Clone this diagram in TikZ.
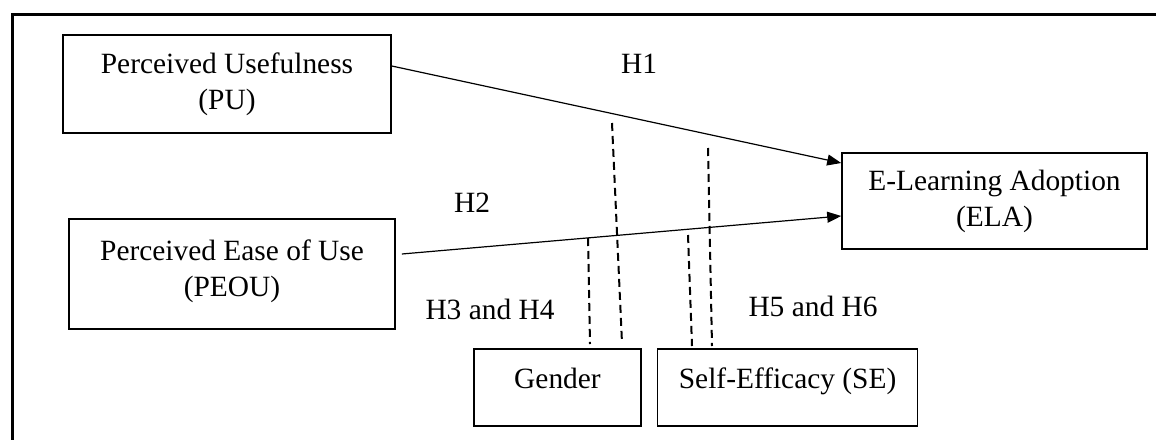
\documentclass[tikz,border=0pt]{standalone}
\usepackage{fontspec}
\setmainfont{Liberation Serif}
\usetikzlibrary{positioning,arrows.meta}

\tikzset{
  construct/.style={draw, line width=0.8pt, align=center, inner sep=0pt},
  moderator/.style={construct, text height=10pt, text depth=9pt},
  effect/.style={-{Triangle[length=7pt,width=5.5pt]}, line width=0.6pt},
  moderation/.style={line width=1pt, dash pattern=on 4pt off 2.5pt}
}

\begin{document}
\begin{tikzpicture}[x=0.5pt, y=-0.5pt, font=\fontsize{14.7}{18}\selectfont]
  \clip (0,0) rectangle (1156,439);
  % outer frame
  \draw[line width=1.5pt] (12,460) -- (12,14) -- (1180,14);

  % constructs
  \node[construct, minimum width=164pt, minimum height=49pt] (pu) at (227,84)
    {Perceived Usefulness\\(PU)};
  \node[construct, minimum width=163pt, minimum height=55pt, text depth=6pt] (peou) at (232,274)
    {Perceived Ease of Use\\(PEOU)};
  \node[construct, minimum width=152.5pt, minimum height=48pt] (ela) at (994.5,201)
    {E-Learning Adoption\\(ELA)};
  \node[moderator, minimum width=83.5pt, minimum height=38.5pt] (gender) at (557.5,387.5)
    {Gender};
  \node[moderator, minimum width=130pt, minimum height=38.5pt, right=7.5pt of gender] (se)
    {Self-Efficacy (SE)};

  % hypotheses
  \node (hOne) at (639,64) {H1};
  \node (hTwo) at (472,203) {H2};
  \node (hGender) at (490,309) {H3 and H4};
  \node (hSelf) at (813,306) {H5 and H6};

  % direct effects
  \draw[effect] ([yshift=9pt]pu.east) -- ([yshift=19pt]ela.west);
  \draw[effect] ([xshift=3pt,yshift=10pt]peou.east) -- ([yshift=-7.5pt]ela.west);

  % moderating effects
  \coordinate (gUpper) at (612,123);
  \coordinate (gLower) at (588,238);
  \coordinate (sUpper) at (708,148);
  \coordinate (sLower) at (688,235);
  \coordinate (gUpperEnd) at (622,343);
  \coordinate (gLowerEnd) at (590,344);
  \coordinate (sUpperEnd) at (712,346);
  \coordinate (sLowerEnd) at (692,346);
  \draw[moderation] (gUpper) -- (gUpperEnd);
  \draw[moderation] (gLower) -- (gLowerEnd);
  \draw[moderation] (sUpper) -- (sUpperEnd);
  \draw[moderation] (sLower) -- (sLowerEnd);
\end{tikzpicture}
\end{document}
